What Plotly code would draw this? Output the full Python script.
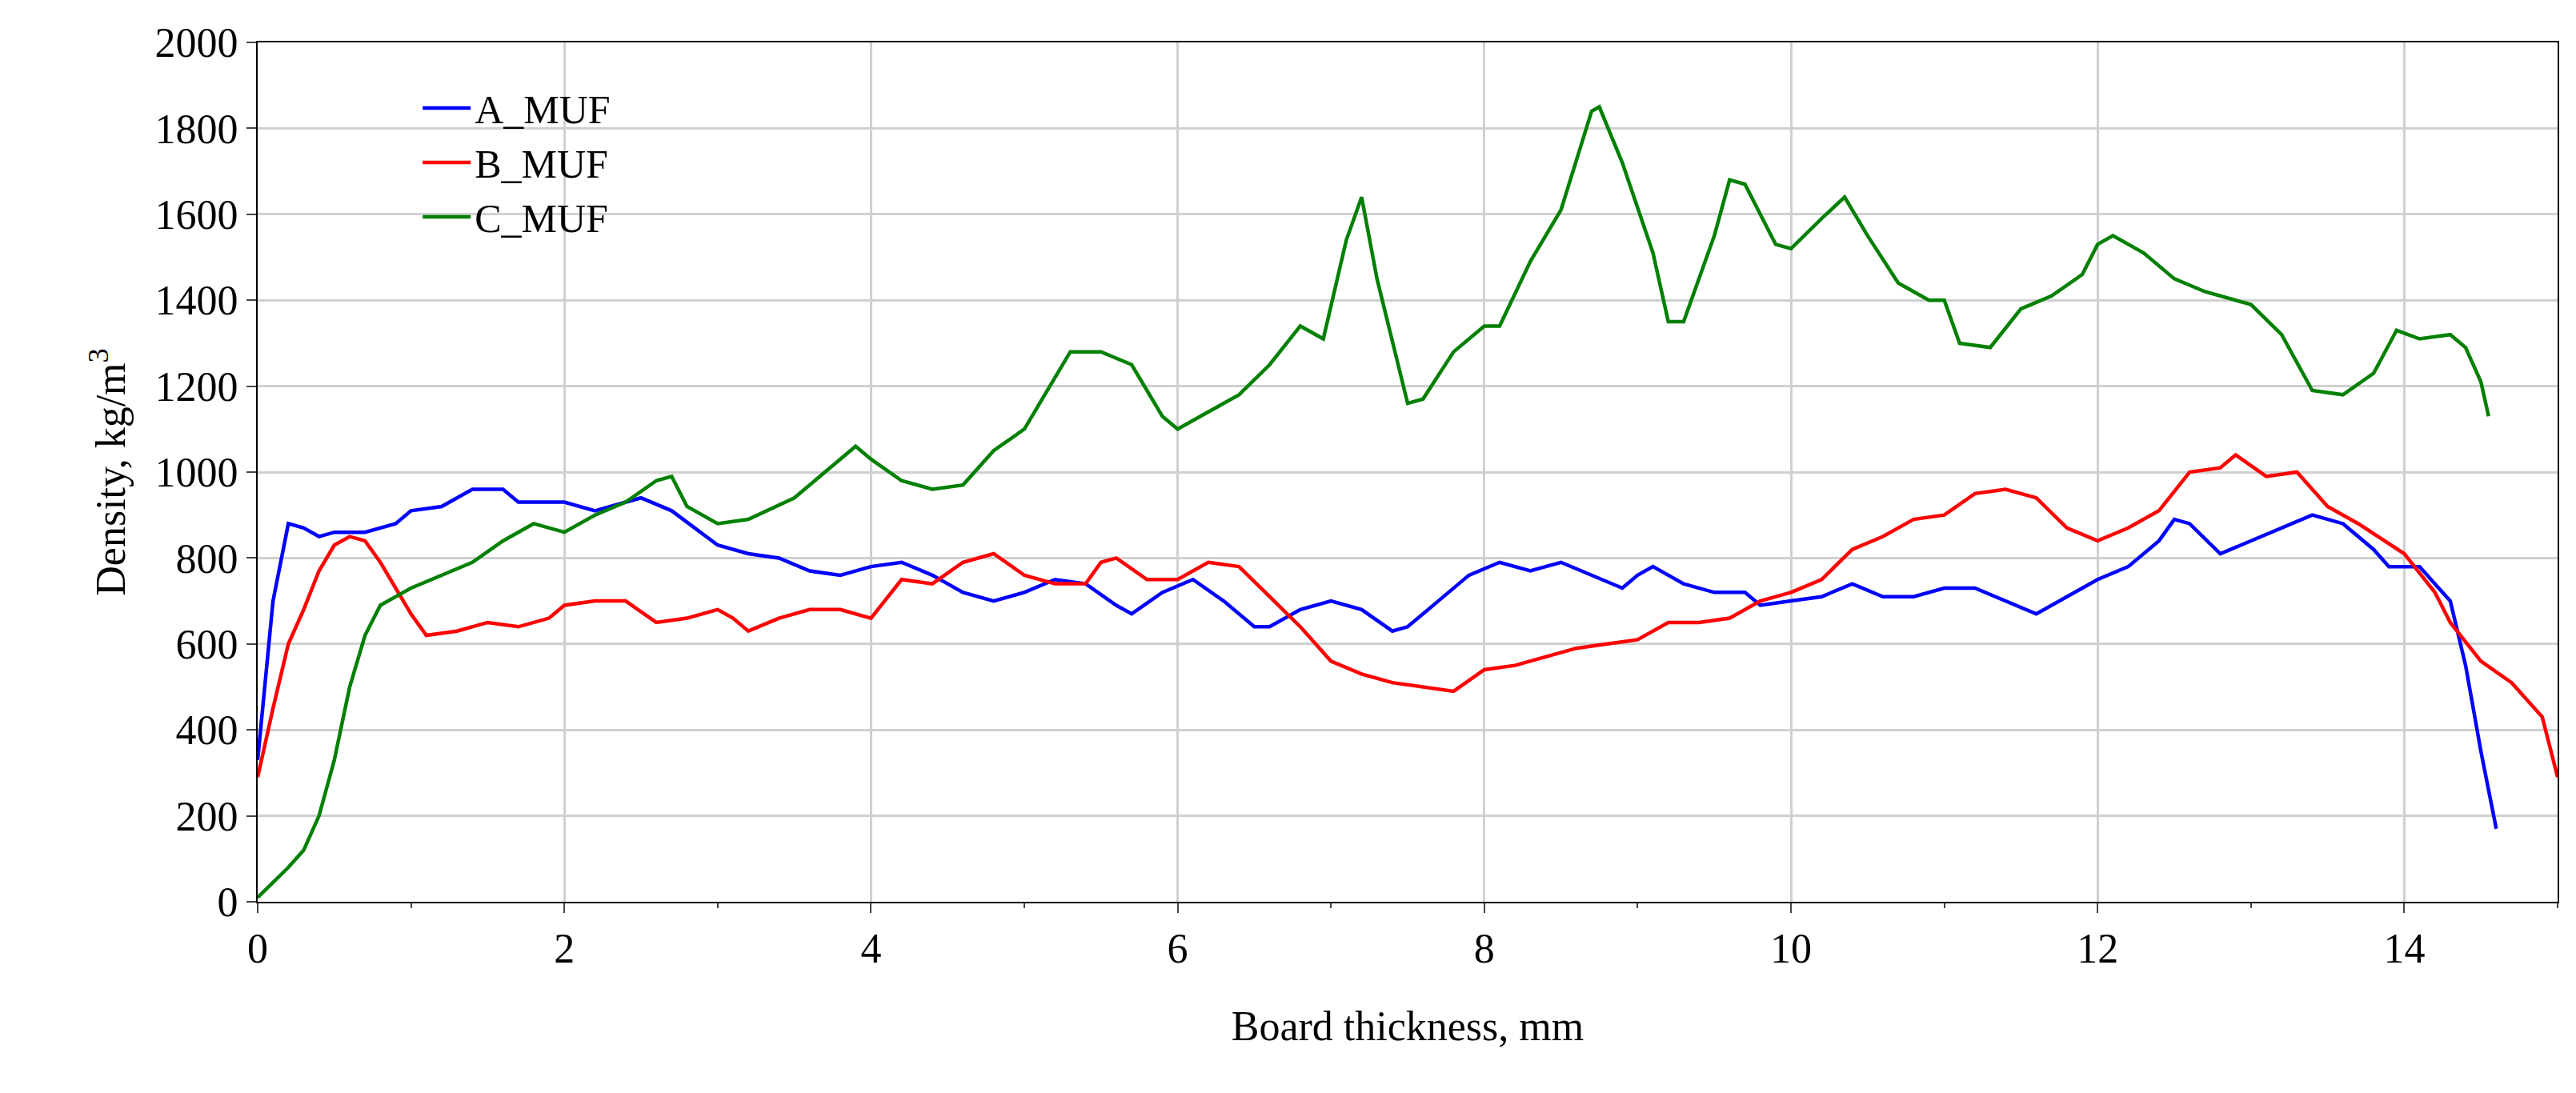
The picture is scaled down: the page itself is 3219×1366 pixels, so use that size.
import plotly.graph_objects as go

a_x = [0,0.1,0.2,0.3,0.4,0.5,0.7,0.9,1.0,1.2,1.4,1.6,1.7,2.0,2.2,2.5,2.7,3.0,3.2,3.4,3.6,3.8,4.0,4.2,4.4,4.6,4.8,5.0,5.2,5.4,5.6,5.7,5.9,6.1,6.3,6.5,6.6,6.8,7.0,7.2,7.4,7.5,7.7,7.9,8.1,8.3,8.5,8.7,8.9,9.0,9.1,9.3,9.5,9.7,9.8,10.0,10.2,10.4,10.6,10.8,11.0,11.2,11.4,11.6,11.8,12.0,12.2,12.4,12.5,12.6,12.8,13.0,13.2,13.4,13.6,13.8,13.9,14.1,14.3,14.4,14.5,14.6]
a_y = [330,700,880,870,850,860,860,880,910,920,960,960,930,930,910,940,910,830,810,800,770,760,780,790,760,720,700,720,750,740,690,670,720,750,700,640,640,680,700,680,630,640,700,760,790,770,790,760,730,760,780,740,720,720,690,700,710,740,710,710,730,730,700,670,710,750,780,840,890,880,810,840,870,900,880,820,780,780,700,550,350,170]

b_x = [0,0.1,0.2,0.3,0.4,0.5,0.6,0.7,0.8,1.0,1.1,1.3,1.5,1.7,1.9,2.0,2.2,2.4,2.6,2.8,3.0,3.1,3.2,3.4,3.6,3.8,4.0,4.2,4.4,4.6,4.8,5.0,5.2,5.4,5.5,5.6,5.8,6.0,6.2,6.4,6.6,6.8,7.0,7.2,7.4,7.6,7.8,8.0,8.2,8.4,8.6,8.8,9.0,9.2,9.4,9.6,9.8,10.0,10.2,10.4,10.6,10.8,11.0,11.2,11.4,11.6,11.8,12.0,12.2,12.4,12.6,12.8,12.9,13.1,13.3,13.5,13.7,14.0,14.2,14.3,14.5,14.7,14.9,15.0]
b_y = [290,450,600,680,770,830,850,840,790,670,620,630,650,640,660,690,700,700,650,660,680,660,630,660,680,680,660,750,740,790,810,760,740,740,790,800,750,750,790,780,710,640,560,530,510,500,490,540,550,570,590,600,610,650,650,660,700,720,750,820,850,890,900,950,960,940,870,840,870,910,1000,1010,1040,990,1000,920,880,810,720,650,560,510,430,290]

c_x = [0,0.2,0.3,0.4,0.5,0.6,0.7,0.8,1.0,1.2,1.4,1.6,1.8,2.0,2.2,2.4,2.6,2.7,2.8,3.0,3.2,3.5,3.7,3.9,4.0,4.2,4.4,4.6,4.8,5.0,5.2,5.3,5.5,5.7,5.9,6.0,6.2,6.4,6.6,6.8,6.95,7.1,7.2,7.3,7.5,7.6,7.8,8.0,8.1,8.3,8.5,8.7,8.75,8.9,9.1,9.2,9.3,9.5,9.6,9.7,9.9,10.0,10.2,10.35,10.5,10.7,10.9,11.0,11.1,11.3,11.5,11.7,11.9,12.0,12.1,12.3,12.5,12.7,13.0,13.2,13.4,13.6,13.8,13.95,14.1,14.3,14.4,14.5,14.55]
c_y = [10,80,120,200,330,500,620,690,730,760,790,840,880,860,900,930,980,990,920,880,890,940,1000,1060,1030,980,960,970,1050,1100,1220,1280,1280,1250,1130,1100,1140,1180,1250,1340,1310,1540,1640,1450,1160,1170,1280,1340,1340,1490,1610,1840,1850,1720,1510,1350,1350,1550,1680,1670,1530,1520,1590,1640,1550,1440,1400,1400,1300,1290,1380,1410,1460,1530,1550,1510,1450,1420,1390,1320,1190,1180,1230,1330,1310,1320,1290,1210,1130]

fig = go.Figure()
for name, x, y, col in [("A_MUF", a_x, a_y, "#0000FF"), ("B_MUF", b_x, b_y, "#FF0000"), ("C_MUF", c_x, c_y, "#008000")]:
    fig.add_trace(go.Scatter(x=x, y=y, mode="lines", name=name, line=dict(color=col, width=4.5)))

axis_common = dict(showgrid=True, gridcolor="#D0D0D0", gridwidth=3, showline=True, linecolor="black", linewidth=2,
                   mirror=True, ticks="outside", ticklen=12, tickwidth=2, zeroline=False,
                   tickfont=dict(size=52, color="black"))
fig.update_xaxes(range=[0, 15], dtick=2, minor=dict(dtick=1, ticks="outside", ticklen=6),
                 title=dict(text="Board thickness, mm", font=dict(size=52, color="black"), standoff=50), **axis_common)
fig.update_yaxes(range=[0, 2000], dtick=200,
                 title=dict(text="Density, kg/m<sup>3</sup>", font=dict(size=52, color="black"), standoff=20), **axis_common)
fig.update_layout(width=3219, height=1366, plot_bgcolor="white", paper_bgcolor="white",
                  font=dict(family="Liberation Serif", color="black"),
                  margin=dict(l=314, r=31, t=45, b=247),
                  legend=dict(x=0.07, y=0.96, xanchor="left", yanchor="top", bgcolor="rgba(0,0,0,0)",
                              font=dict(size=50), itemwidth=60))
fig.write_html("out.html")
